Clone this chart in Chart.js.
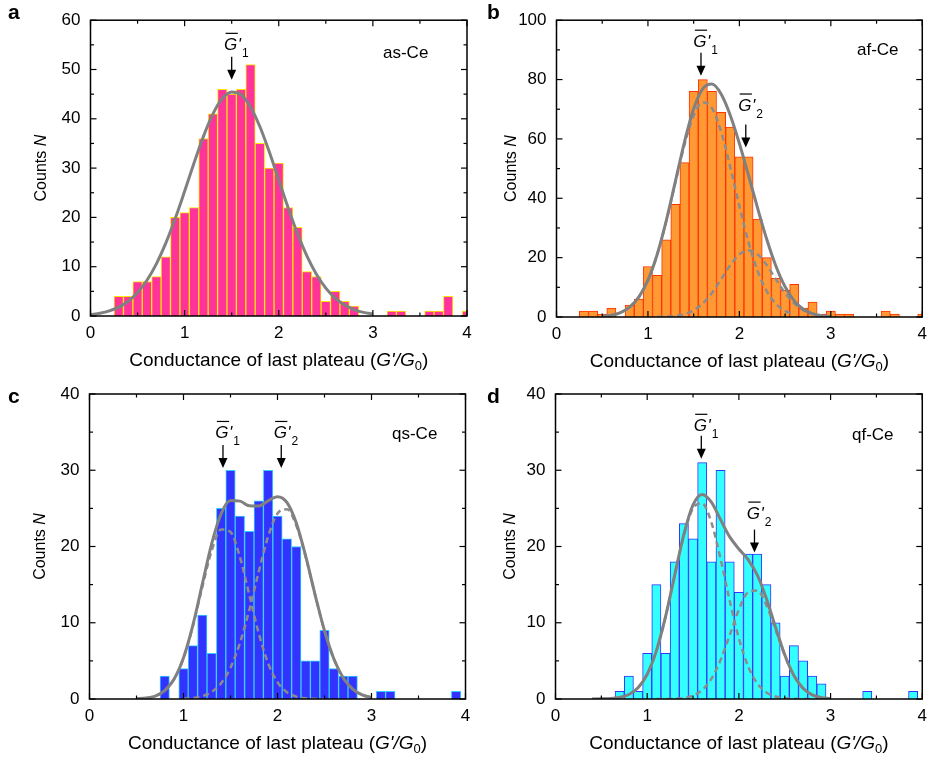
<!DOCTYPE html>
<html><head><meta charset="utf-8">
<script src="https://cdn.jsdelivr.net/npm/chart.js@4/dist/chart.umd.min.js"></script>
<style>
html,body{margin:0;padding:0;background:#fff;}
#wrap{position:relative;width:934px;height:763px;overflow:hidden;background:#fff;}
canvas{position:absolute;left:0;top:0;}
</style></head><body>
<div id="wrap">
<canvas id="ca" width="934" height="763"></canvas>
<canvas id="cb" width="934" height="763"></canvas>
<canvas id="cc" width="934" height="763"></canvas>
<canvas id="cd" width="934" height="763"></canvas>
</div>
<script>
// ---------- data ----------
const binCenters = [0.3,0.4,0.5,0.6,0.7,0.8,0.9,1.0,1.1,1.2,1.3,1.4,1.5,1.6,1.7,1.8,1.9,2.0,2.1,2.2,2.3,2.4,2.5,2.6,2.7,2.8,2.9,3.0,3.1,3.2,3.3,3.4,3.5,3.6,3.7,3.8,3.9,4.0];
const countsA = [4,4,7,7,8,12,20,21,22,36,41,46,45,46,51,35,30,31,22,18,9,8,3,5,3,2,0,0,0,1,1,0,0,1,1,4,0,1];
const countsB = [2,2,1,3,0,4,6,17,14,26,38,52,76,80,76,69,64,54,54,33,20,13,9,11,3,5,1,2,1,1,0,0,0,2,1,0,0,1];
const countsC = [0,0,0,0,0,3,0,4,7,11,6,25,30,24,22,26,30,24,21,20,5,5,9,4,3,3,0,0,1,1,0,0,0,0,0,0,1,0];
const countsD = [0,0,0,0,1,3,1,6,15,6,18,23,21,31,18,30,18,14,19,19,15,10,3,7,5,3,2,0,0,0,0,1,0,0,0,0,1,0];

const fitXA = [0,0.1,0.2,0.3,0.4,0.5,0.6,0.7,0.8,0.9,1.0,1.1,1.2,1.3,1.4,1.5,1.6,1.7,1.8,1.9,2.0,2.1,2.2,2.3,2.4,2.5,2.6,2.7,2.8,2.9,3.0];
const fitA = [0.30,0.57,1.04,1.80,2.99,4.76,7.25,10.58,14.77,19.76,25.30,31.03,36.44,40.96,44.10,45.46,44.87,42.41,38.38,33.26,27.60,21.93,16.68,12.15,8.47,5.66,3.62,2.22,1.30,0.73,0.39];

const fitX = [0.4,0.5,0.6,0.7,0.8,0.9,1.0,1.1,1.2,1.3,1.4,1.5,1.6,1.7,1.8,1.9,2.0,2.1,2.2,2.3,2.4,2.5,2.6,2.7,2.8,2.9,3.0];
const fitB  = [null,0.23,0.61,1.49,3.31,6.71,12.42,20.99,32.39,45.69,59.04,70.13,76.94,78.51,75.15,68.01,58.47,47.67,36.58,26.11,17.11,10.18,5.45,2.61,1.11,0.42,0.14];
const fitB1 = [null,0.23,0.61,1.49,3.31,6.71,12.41,20.95,32.26,45.31,58.05,67.86,72.37,70.40,62.48,50.58,37.36,25.17,15.47,8.68,4.44,2.07,0.88,null,null,null,null];
const fitB2 = [null,null,null,null,null,null,null,0.04,0.13,0.38,0.99,2.27,4.57,8.11,12.67,17.43,21.11,22.5,21.11,17.43,12.67,8.11,4.57,2.27,0.99,0.38,0.13];
const fitC  = [null,0.03,0.12,0.39,1.09,2.61,5.42,9.70,15.06,20.39,24.29,26.02,25.95,25.34,25.31,25.99,26.54,25.78,23.07,18.73,13.67,8.95,5.25,2.76,1.29,0.54,0.20];
const fitC1 = [null,0.03,0.12,0.39,1.09,2.60,5.38,9.57,14.69,19.46,22.23,21.91,18.62,13.65,8.63,4.70,2.21,0.90,0.31,0.09,0.02,0,null,null,null,null,null];
const fitC2 = [null,null,null,null,null,null,0.04,0.13,0.37,0.93,2.06,4.11,7.33,11.69,16.68,21.29,24.33,24.88,22.76,18.64,13.65,8.95,5.25,2.76,1.29,0.54,0.20];
const fitD  = [0.00,0.02,0.06,0.21,0.59,1.47,3.25,6.31,10.79,16.25,21.60,25.45,26.82,25.81,23.52,21.26,19.67,18.29,16.27,13.17,9.40,5.81,3.09,1.41,0.54,0.18,0.05];
const fitD1 = [0.00,0.02,0.06,0.21,0.59,1.47,3.25,6.31,10.78,16.21,21.46,25.01,25.65,23.16,18.41,12.88,7.94,4.30,2.05,0.86,0.32,0.10,0.03,0.01,0,null,null];
const fitD2 = [null,null,null,null,null,null,null,0,0.01,0.04,0.14,0.44,1.17,2.65,5.11,8.38,11.73,13.99,14.22,12.31,9.08,5.71,3.06,1.40,0.54,0.18,0.05];

const xTickLabels = [0,1,2,3,4];
const xMinorTicks = [0.5,1.5,2.5,3.5];
const yTicksA = [0,10,20,30,40,50,60];
const yTicksB = [0,20,40,60,80,100];
const yTicksCD = [0,10,20,30,40];

// ---------- drawing ----------
const FONT = '"Liberation Sans", Arial, Helvetica, sans-serif';

function richWidth(ctx, segs){
  let w = 0;
  for (const s of segs){ ctx.font = s.f; w += ctx.measureText(s.t).width; }
  return w;
}
function drawRich(ctx, segs, cx, base){
  let x = cx - richWidth(ctx, segs)/2;
  ctx.textAlign = 'left'; ctx.textBaseline = 'alphabetic';
  for (const s of segs){ ctx.font = s.f; ctx.fillText(s.t, x, base + (s.dy||0)); x += ctx.measureText(s.t).width; }
}
function gLabel(ctx, px, base, sub){
  ctx.fillStyle = '#000'; ctx.strokeStyle = '#000';
  ctx.textAlign = 'left'; ctx.textBaseline = 'alphabetic';
  ctx.font = `italic 17px ${FONT}`;
  const gw = ctx.measureText('G').width;
  const gx = px - 1 - gw/2;
  ctx.fillText('G', gx, base);
  ctx.lineWidth = 1.2;
  ctx.beginPath(); ctx.moveTo(gx+1.5, base-16.5); ctx.lineTo(gx+gw+0.5, base-16.5); ctx.stroke();
  ctx.fillText("'", gx+gw+0.5, base);
  const pw = ctx.measureText("'").width;
  ctx.font = `12px ${FONT}`;
  ctx.fillText(sub, gx+gw+pw+1.5, base+7);
}
function arrow(ctx, px, tip, len){
  ctx.strokeStyle = '#000'; ctx.fillStyle = '#000'; ctx.lineWidth = 1.3;
  ctx.beginPath(); ctx.moveTo(px, tip-len); ctx.lineTo(px, tip-9); ctx.stroke();
  ctx.beginPath(); ctx.moveTo(px-4.5, tip-10); ctx.lineTo(px+4.5, tip-10); ctx.lineTo(px, tip); ctx.closePath(); ctx.fill();
}

function decor(o){
  return { id: 'decor', afterDraw(chart){
    const ctx = chart.ctx, a = chart.chartArea, xs = chart.scales.x, ys = chart.scales.y;
    ctx.save();
    ctx.strokeStyle = '#000'; ctx.fillStyle = '#000';
    const seg = (x1,y1,x2,y2)=>{ ctx.beginPath(); ctx.moveTo(x1,y1); ctx.lineTo(x2,y2); ctx.stroke(); };
    // inward ticks
    ctx.lineWidth = 1.2;
    xTickLabels.forEach(v=>{ const p = xs.getPixelForValue(v); seg(p,a.bottom,p,a.bottom-6); seg(p,a.top,p,a.top+6); });
    xMinorTicks.forEach(v=>{ const p = xs.getPixelForValue(v); seg(p,a.bottom,p,a.bottom-3.5); seg(p,a.top,p,a.top+3.5); });
    o.yTicks.forEach(v=>{ const p = ys.getPixelForValue(v); seg(a.left,p,a.left+6,p); seg(a.right,p,a.right-6,p); });
    o.yMinor.forEach(v=>{ const p = ys.getPixelForValue(v); seg(a.left,p,a.left+3.5,p); seg(a.right,p,a.right-3.5,p); });
    // frame
    ctx.lineWidth = 1.5;
    ctx.strokeRect(a.left, a.top, a.right-a.left, a.bottom-a.top);
    // x title
    drawRich(ctx, [
      {t:'Conductance of last plateau (', f:`19px ${FONT}`},
      {t:"G'/G", f:`italic 19px ${FONT}`},
      {t:'0', f:`13px ${FONT}`, dy:4},
      {t:')', f:`19px ${FONT}`}
    ], (a.left+a.right)/2, a.bottom+50);
    // y title
    ctx.save();
    ctx.translate(a.left - o.yTitleOff, (a.top+a.bottom)/2);
    ctx.rotate(-Math.PI/2);
    drawRich(ctx, [{t:'Counts ', f:`16px ${FONT}`},{t:'N', f:`italic 16px ${FONT}`}], 0, 0);
    ctx.restore();
    // panel letter
    ctx.font = `bold 21px ${FONT}`; ctx.textAlign='left'; ctx.textBaseline='alphabetic';
    ctx.fillText(o.letter, o.letterPos[0], o.letterPos[1]);
    // sample name
    ctx.font = `17px ${FONT}`;
    ctx.fillText(o.name, o.namePos[0], o.namePos[1]);
    // peak arrows
    o.peaks.forEach(k=>{
      const px = xs.getPixelForValue(k.x), tip = ys.getPixelForValue(k.tip);
      arrow(ctx, px, tip, 23);
      gLabel(ctx, px, tip-23-k.gap, k.sub);
    });
    ctx.restore();
  }};
}

function panel(id, o){
  const ds = [];
  ds.push({type:'line', data:o.fitX.map((x,i)=>({x, y:o.fit[i]})), borderColor:'#808080', borderWidth:3,
    pointRadius:0, cubicInterpolationMode:'monotone', spanGaps:false, order:1, clip:0});
  o.comps.forEach(c=>ds.push({type:'line', data:o.fitX.map((x,i)=>({x, y:c[i]})), borderColor:'#8c8c8c', borderWidth:2.5,
    borderDash:[6,4], pointRadius:0, cubicInterpolationMode:'monotone', spanGaps:false, order:2, clip:0}));
  ds.push({type:'bar', data:binCenters.map((x,i)=>({x, y:o.counts[i]})), backgroundColor:o.fill, borderColor:o.edge,
    borderWidth:1, barPercentage:1, categoryPercentage:1, order:3, clip:0});
  new Chart(document.getElementById(id), {
    type:'bar',
    data:{datasets:ds},
    options:{
      responsive:false, animation:false, devicePixelRatio:1,
      layout:{padding:{left:o.area.l-40, right:934-o.area.r, top:o.area.t, bottom:763-o.area.b-30}},
      plugins:{legend:{display:false}, tooltip:{enabled:false}},
      scales:{
        x:{type:'linear', min:0, max:4, offset:false,
           grid:{display:false, drawTicks:false}, border:{display:false},
           afterBuildTicks:s=>{ s.ticks = xTickLabels.map(v=>({value:v})); },
           ticks:{padding:7, color:'#000', font:{family:FONT, size:17}, maxRotation:0, autoSkip:false},
           afterFit:s=>{ s.height = 30; }},
        y:{type:'linear', min:0, max:o.yTicks[o.yTicks.length-1],
           grid:{display:false, drawTicks:false}, border:{display:false},
           afterBuildTicks:s=>{ s.ticks = o.yTicks.map(v=>({value:v})); },
           ticks:{padding:10, color:'#000', font:{family:FONT, size:17}, autoSkip:false},
           afterFit:s=>{ s.width = 40; }}
      }
    },
    plugins:[decor(o)]
  });
}

panel('ca', {letter:'a', letterPos:[8,19], name:'as-Ce', namePos:[383,58],
  area:{l:90.5, r:467, t:14, b:316}, yTicks:yTicksA, yMinor:[5,15,25,35,45,55], yTitleOff:44.5,
  counts:countsA, fill:'#ff3399', edge:'#ffe600', fitX:fitXA, fit:fitA, comps:[],
  peaks:[{x:1.5, tip:47.9, sub:'1', gap:7}]});
panel('cb', {letter:'b', letterPos:[487,19], name:'af-Ce', namePos:[857,55],
  area:{l:556.5, r:930, t:14, b:317}, yTicks:yTicksB, yMinor:[10,30,50,70,90], yTitleOff:41,
  counts:countsB, fill:'#ff9933', edge:'#ff3300', fitX:fitX, fit:fitB, comps:[fitB1, fitB2],
  peaks:[{x:1.58, tip:81.3, sub:'1', gap:6},{x:2.07, tip:57.1, sub:'2', gap:14}]});
panel('cc', {letter:'c', letterPos:[8,403], name:'qs-Ce', namePos:[392,439],
  area:{l:89.5, r:465.5, t:394, b:699}, yTicks:yTicksCD, yMinor:[5,15,25,35], yTitleOff:44.5,
  counts:countsC, fill:'#3333ff', edge:'#33ccff', fitX:fitX, fit:fitC, comps:[fitC1, fitC2],
  peaks:[{x:1.42, tip:30.3, sub:'1', gap:7},{x:2.04, tip:30.3, sub:'2', gap:7}]});
panel('cd', {letter:'d', letterPos:[487,403], name:'qf-Ce', namePos:[852,440],
  area:{l:555.5, r:929.5, t:394, b:699}, yTicks:yTicksCD, yMinor:[5,15,25,35], yTitleOff:41,
  counts:countsD, fill:'#33ffff', edge:'#3333ff', fitX:fitX, fit:fitD, comps:[fitD1, fitD2],
  peaks:[{x:1.59, tip:31.5, sub:'1', gap:5},{x:2.17, tip:19.2, sub:'2', gap:11}]});
</script>
</body></html>
